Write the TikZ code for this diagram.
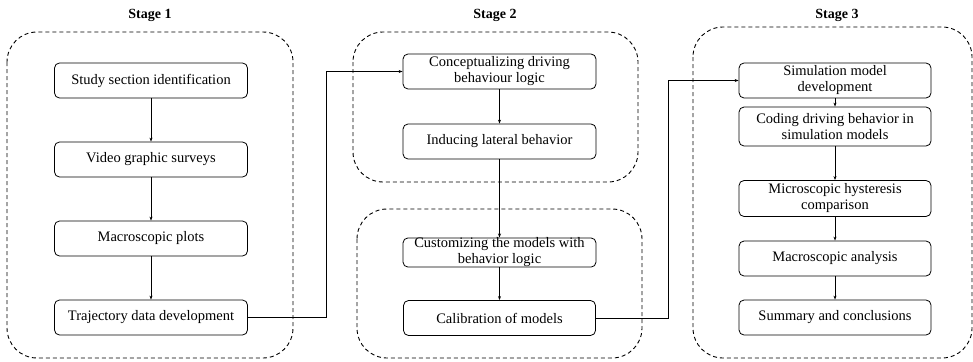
\documentclass[tikz,border=0pt]{standalone}
\usepackage{fontspec}
\setmainfont{Liberation Serif}
\usetikzlibrary{arrows.meta}

\begin{document}
\begin{tikzpicture}[x=1pt, y=-1pt,
		box/.style = {draw, line width=0.8pt, rounded corners=5pt, minimum width=193pt, minimum height=35pt, inner xsep=2pt, inner ysep=0pt, align=center, font=\fontsize{14.5}{16}\selectfont},
		stage/.style = {dash pattern=on 4pt off 3pt, line width=0.9pt, rounded corners=30pt},
		title/.style = {font=\fontsize{14}{16}\selectfont\bfseries},
		arr/.style = {-{Stealth[length=4pt, width=3pt]}, line width=0.8pt}]
		\useasboundingbox (0,0) rectangle (973,361);

		% dashed stage frames
		\draw[stage] (7,32) rectangle (293,358);
		\draw[stage] (353,32) rectangle (638,182);
		\draw[stage] (357,209) rectangle (642,358);
		\draw[stage] (693,27) rectangle (972,358);

		\node[title] (t1) at (150,15) {Stage 1};
		\node[title] (t2) at (495,15) {Stage 2};
		\node[title] (t3) at (837,15) {Stage 3};

		% stage 1
		\node[box] (s1a) at (151,80.5) {Study section identification};
		\node[box] (s1b) at (151,159.5) {Video graphic surveys};
		\node[box] (s1c) at (151,238.5) {Macroscopic plots};
		\node[box] (s1d) at (151,317.5) {Trajectory data development};

		% stage 2
		\node[box] (s2a) at (499.5,71.5) {Conceptualizing driving\\behaviour logic};
		\node[box] (s2b) at (499.5,141.5) {Inducing lateral behavior};
		\node[box, minimum height=29pt] (s2c) at (499.5,252.5) {Customizing the models with\\behavior logic};
		\node[box, minimum width=192pt] (s2d) at (499.5,318) {Calibration of models};

		% stage 3
		\node[box, minimum width=192pt] (s3a) at (835,80.5) {Simulation model\\development};
		\node[box, minimum width=192pt, minimum height=39pt] (s3b) at (835,126.5) {Coding driving behavior in\\simulation models};
		\node[box, minimum width=192pt, minimum height=36pt] (s3c) at (835,198.5) {Microscopic hysteresis\\comparison};
		\node[box, minimum width=192pt] (s3d) at (835,258.5) {Macroscopic analysis};
		\node[box, minimum width=192pt] (s3e) at (835,317.5) {Summary and conclusions};

		\draw[arr] (s1a) -- (s1b);
		\draw[arr] (s1b) -- (s1c);
		\draw[arr] (s1c) -- (s1d);
		\draw[arr] (s2a) -- (s2b);
		\draw[arr] (s2b) -- (s2c);
		\draw[arr] (s2c) -- (s2d);
		\draw[arr] (s3a) -- (s3b);
		\draw[arr] (s3b) -- (s3c);
		\draw[arr] (s3c) -- (s3d);
		\draw[arr] (s3d) -- (s3e);

		% links between stages
		\draw[arr] (s1d.east) -- ++(78,0) |- (s2a.west);
		\draw[arr] (s2d.east) -- ++(72,0) |- (s3a.west);
	\end{tikzpicture}
\end{document}
